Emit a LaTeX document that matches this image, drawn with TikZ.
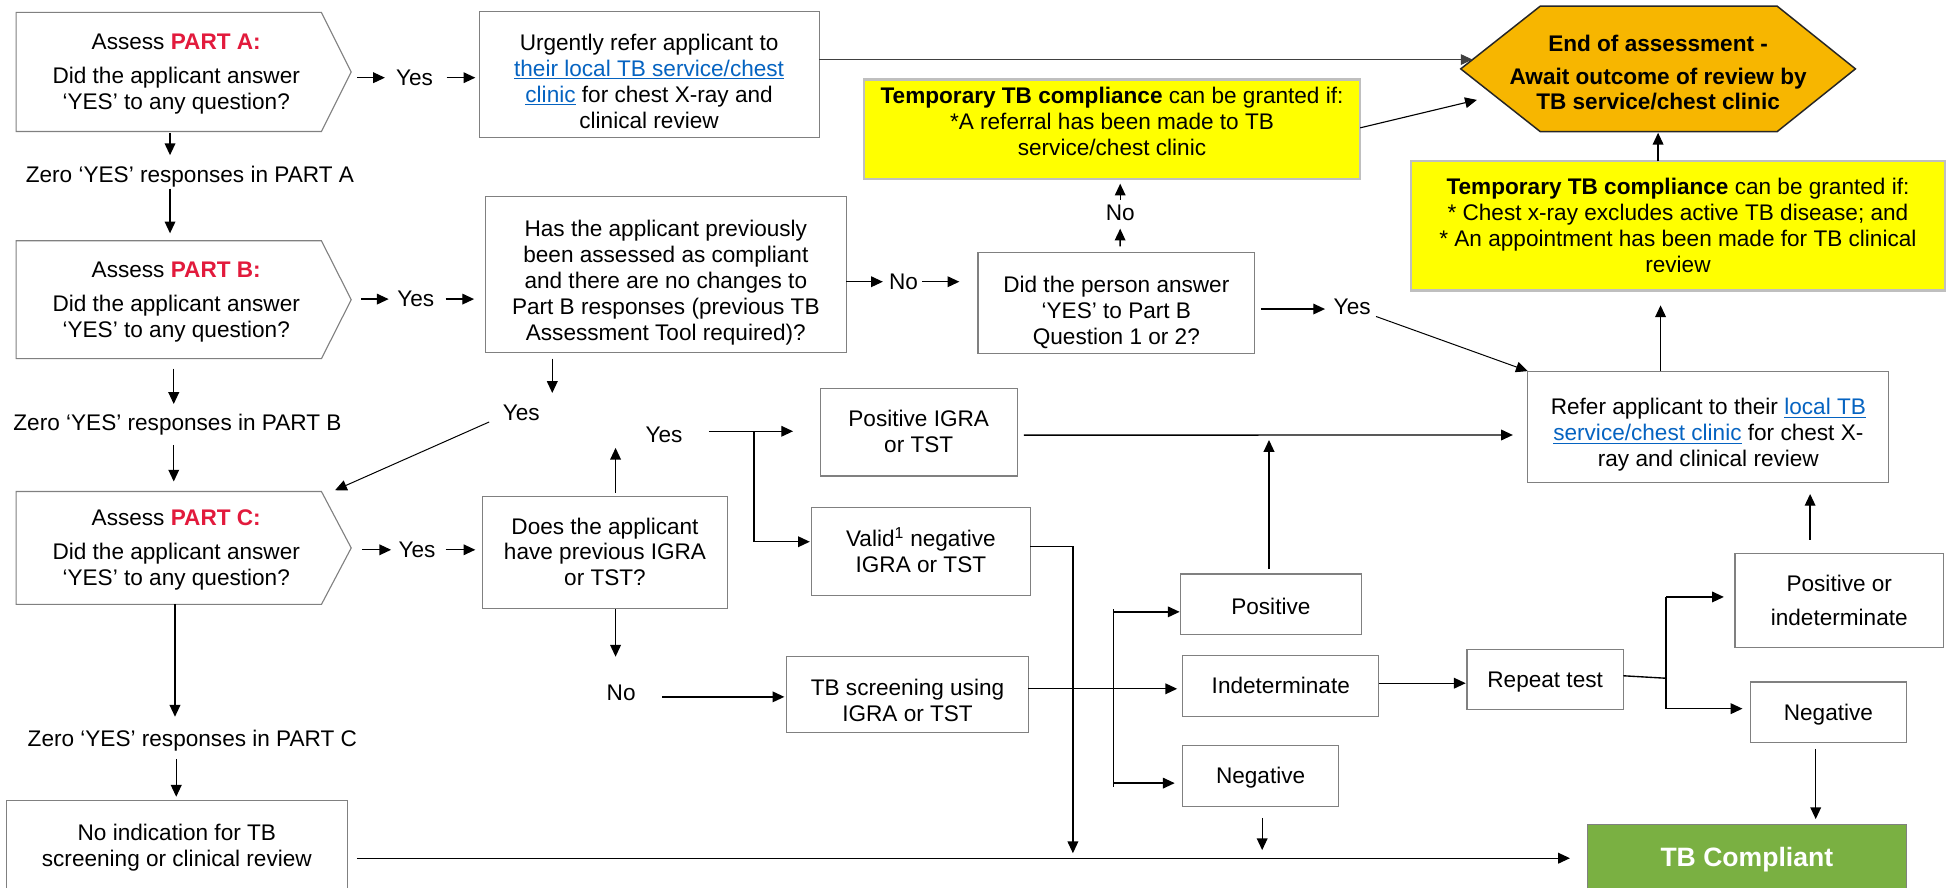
\documentclass[tikz,border=0pt]{standalone}
\usepackage{fontspec}
\setmainfont{Liberation Sans}
\usetikzlibrary{arrows.meta,calc}
\definecolor{boxgray}{RGB}{128,128,128}
\definecolor{ygray}{RGB}{191,191,191}
\definecolor{partred}{RGB}{226,26,60}
\definecolor{linkblue}{RGB}{5,99,193}
\definecolor{hexfill}{RGB}{247,182,0}
\definecolor{tbgreen}{RGB}{122,176,66}
\definecolor{yfill}{RGB}{255,255,0}
\newcommand{\fs}{\fontsize{18.2pt}{20.9pt}\selectfont}
\newcommand{\lnk}[1]{{\color{linkblue}\underline{#1}}}
\newcommand{\mytxt}[2][-2pt]{\raisebox{#1}[\height][\depth]{\begin{tabular}{@{}c@{}}#2\end{tabular}}}
\pgfdeclarelayer{bg}
\pgfsetlayers{bg,main}
\tikzset{
  box/.style={draw=boxgray, line width=0.9pt, inner sep=0pt, outer sep=0pt, anchor=north west, font=\fs},
  ybox/.style={box, draw=ygray, line width=1.8pt, fill=yfill},
  pent/.style={draw=boxgray, line width=0.9pt},
  lbl/.style={inner sep=0pt, outer sep=0pt, font=\fs},
  arr/.style={line width=1.1pt, -{Triangle[length=9.5pt,width=8.6pt]}},
  ln/.style={line width=1.1pt},
  thinln/.style={line width=0.8pt}
}
\begin{document}
\begin{tikzpicture}[x=1pt,y=-1pt]
\useasboundingbox (0,0) rectangle (1568,715);

% ---------- left column ----------
\node[box, draw=none, minimum width=258pt, minimum height=96pt] (pa) at (13,10)
  {\mytxt{Assess \textcolor{partred}{\textbf{PART A:}}\\[7pt] Did the applicant answer\\ ‘YES’ to any question?}};
\draw[pent] (pa.north west) -- ($(pa.north east)+(-12,0)$) -- ($(pa.east)+(12,0)$) -- ($(pa.south east)+(-12,0)$) -- (pa.south west) -- cycle;

\node[box, draw=none, minimum width=258pt, minimum height=95pt] (pb) at (13,194)
  {\mytxt{Assess \textcolor{partred}{\textbf{PART B:}}\\[7pt] Did the applicant answer\\ ‘YES’ to any question?}};
\draw[pent] (pb.north west) -- ($(pb.north east)+(-12,0)$) -- ($(pb.east)+(12,0)$) -- ($(pb.south east)+(-12,0)$) -- (pb.south west) -- cycle;

\node[box, draw=none, minimum width=258pt, minimum height=91pt] (pc) at (13,396)
  {\mytxt{Assess \textcolor{partred}{\textbf{PART C:}}\\[7pt] Did the applicant answer\\ ‘YES’ to any question?}};
\draw[pent] (pc.north west) -- ($(pc.north east)+(-12,0)$) -- ($(pc.east)+(12,0)$) -- ($(pc.south east)+(-12,0)$) -- (pc.south west) -- cycle;

\node[box, minimum width=275pt, minimum height=77pt] (noind) at (5,645)
  {\mytxt[0pt]{No indication for TB\\ screening or clinical review}};

\node[lbl] (zA) at (153,142.5) {Zero ‘YES’ responses in PART A};
\node[lbl] (zB) at (143,342) {Zero ‘YES’ responses in PART B};
\node[lbl] (zC) at (155,597) {Zero ‘YES’ responses in PART C};
\node[lbl] (yA) at (334,62.6) {Yes};
\node[lbl] (yB) at (335,241) {Yes};
\node[lbl] (yC) at (336,443) {Yes};

% ---------- middle ----------
\node[box, minimum width=274pt, minimum height=102pt] (urg) at (386,9)
  {\mytxt[-8pt]{Urgently refer applicant to\\ \lnk{their local TB service/chest}\\ \lnk{clinic} for chest X-ray and\\ clinical review}};
\node[box, minimum width=291pt, minimum height=125.5pt] (has) at (391,158.5)
  {\mytxt[-7pt]{Has the applicant previously\\ been assessed as compliant\\ and there are no changes to\\ Part B responses (previous TB\\ Assessment Tool required)?}};
\node[box, minimum width=197pt, minimum height=90pt] (does) at (389,400)
  {\mytxt{Does the applicant\\ have previous IGRA\\ or TST?}};
\node[box, minimum width=223pt, minimum height=81.4pt] (dtp) at (788,203.6)
  {\mytxt[-8pt]{Did the person answer\\ ‘YES’ to Part B\\ Question 1 or 2?}};
\node[ybox, minimum width=400pt, minimum height=80pt] (y1) at (696,64)
  {\mytxt[4pt]{\textbf{Temporary TB compliance} can be granted if:\\ {*}A referral has been made to TB\\ service/chest clinic}};
\node[box, minimum width=158.5pt, minimum height=70.8pt] (posigra) at (661,312.7)
  {\mytxt{Positive IGRA\\ or TST}};
\node[box, minimum width=176pt, minimum height=70.5pt] (valid) at (654,409)
  {\mytxt{Valid\textsuperscript{1} negative\\ IGRA or TST}};
\node[box, minimum width=194.5pt, minimum height=61.5pt] (tbscr) at (634,529)
  {\mytxt[-7pt]{TB screening using\\ IGRA or TST}};
\node[box, minimum width=146pt, minimum height=49pt] (pos) at (951,462.5) {\mytxt[-4pt]{Positive}};
\node[box, minimum width=158pt, minimum height=49pt] (indet) at (953,528) {\mytxt{Indeterminate}};
\node[box, minimum width=125.5pt, minimum height=49pt] (neg1) at (953,601) {\mytxt{Negative}};
\node[box, minimum width=126pt, minimum height=49pt] (repeat) at (1182,523) {\mytxt{Repeat test}};

\node[lbl] (noH) at (728,227) {No};
\node[lbl] (yesHas) at (420,333) {Yes};
\node[lbl] (yesDoes) at (535,350.5) {Yes};
\node[lbl] (noDoes) at (500.5,558.5) {No};
\node[lbl] (noDtp) at (902.6,171.4) {No};
\node[lbl] (yesDtp) at (1089.5,247.5) {Yes};

% ---------- right ----------
\node[box, draw=none, font=\fs\bfseries, minimum width=318pt, minimum height=101pt] (hex) at (1177,5)
  {\mytxt[-5pt]{End of assessment -\\[5.5pt] Await outcome of review by\\[-1pt] TB service/chest clinic}};
\begin{pgfonlayer}{bg}
\draw[draw=black!85, line width=1.2pt, fill=hexfill] (hex.west) -- ($(hex.north west)+(64,0)$) -- ($(hex.north east)+(-63,0)$) -- (hex.east) -- ($(hex.south east)+(-63,0)$) -- ($(hex.south west)+(64,0)$) -- cycle;
\end{pgfonlayer}
\node[ybox, minimum width=430pt, minimum height=104pt] (y2) at (1137,130)
  {\mytxt{\textbf{Temporary TB compliance} can be granted if:\\ {*} Chest x-ray excludes active TB disease; and\\ {*} An appointment has been made for TB clinical\\ review}};
\node[box, minimum width=291pt, minimum height=90pt] (refer) at (1231,299)
  {\mytxt[-7pt]{Refer applicant to their \lnk{local TB}\\ \lnk{service/chest clinic} for chest X-\\ ray and clinical review}};
\node[box, minimum width=168pt, minimum height=76pt] (posind) at (1398,446)
  {\mytxt{Positive or\\[6.5pt] indeterminate}};
\node[box, minimum width=125.5pt, minimum height=49pt] (neg2) at (1410.5,549.5) {\mytxt{Negative}};
\node[box, fill=tbgreen, text=white, font=\fontsize{21.4pt}{24pt}\selectfont\bfseries, minimum width=257pt, minimum height=58pt] (tbc) at (1279,664) {TB Compliant};

\coordinate (hexin1) at ($(hex.west)+(9.5,-7.5)$);
\coordinate (hexin2) at ($(hex.west)+(13,25)$);
\coordinate (j1) at (864.5,687.5);
\coordinate (j2) at (1017,685);
\coordinate (br2) at (1342.5,546.5);

% ---------- connectors ----------
\draw[arr] ($(pa.east |- yA)+(17,0)$) -- ($(yA.west)+(-9,0)$);
\draw[arr] ($(yA.east)+(11,0)$) -- ($(urg.west |- yA)+(-3,0)$);
\draw[arr, line width=0.9pt, draw=black!75] ($(urg.north east)+(0,39)$) -- (hexin1);
\draw[arr, line width=0.9pt] ($(y1.east)+(0,-1)$) -- (hexin2);
\draw[arr] ($(y2.north)+(-16,0)$) -- ($(hex.south)+(0,1)$);

\draw[arr] ($(pa.south)+(-5,1)$) -- ($(zA.north)+(-16,-9)$);
\draw[arr] ($(zA.south)+(-16,1)$) -- ($(pb.north)+(-5,-6)$);
\draw[arr] ($(pb.east |- yB)+(20,0)$) -- ($(yB.west)+(-7,0)$);
\draw[arr] ($(yB.east)+(9.3,0)$) -- ($(has.west |- yB)+(-9,0)$);
\draw[arr] ($(pb.south)+(-2,8)$) -- ($(zB.north)+(-3,-8)$);
\draw[arr] ($(zB.south)+(-3,8)$) -- ($(pc.north)+(-2,-8)$);

\draw[arr] (has.east |- noH) -- ($(noH.west)+(-5,0)$);
\draw[arr] ($(noH.east)+(3.5,0)$) -- ($(dtp.west |- noH)+(-15,0)$);
\draw[arr] ($(has.south)+(-91.5,5)$) -- ($(yesHas.north)+(25,-10)$);
\draw[arr, thinln] ($(yesHas.west)+(-11,7)$) -- ($(pc.north east)+(-1,-1)$);

\draw[arr] ($(dtp.north)+(3,-5)$) -- ($(noDtp.south)+(0,6.5)$);
\draw[arr] ($(noDtp.north)+(0,-4)$) -- ($(y1.south -| noDtp)+(0,4)$);
\draw[arr] ($(dtp.east |- yesDtp)+(5,1.5)$) -- ($(yesDtp.west)+(-7,1.5)$);
\draw[arr, thinln] ($(yesDtp.east)+(4.4,7.5)$) -- (refer.north west);
\draw[arr] ($(refer.north)+(-38.5,0)$) -- ($(y2.south)+(-14,12)$);

\draw[arr] ($(pc.east |- yC)+(21,0)$) -- ($(yC.west)+(-6,0)$);
\draw[arr] ($(yC.east)+(8.3,0)$) -- ($(does.west |- yC)+(-6,0)$);
\draw[arr] ($(pc.south)+(-1,0)$) -- ($(zC.north)+(-14,-11)$);
\draw[arr] ($(zC.south)+(-13,6)$) -- ($(noind.north)+(-0.5,-3)$);

\draw[arr] ($(does.north)+(8.5,-3)$) -- ($(yesDoes.south)+(-39,4)$);
\draw[arr] ($(yesDoes.east)+(21.3,-3)$) -- ($(posigra.west |- yesDoes)+(-22,-3)$);
\draw[arr] ($(yesDoes.east)+(57.8,-3)$) |- ($(valid.west)+(-1.5,-7.75)$);
\draw[arr] ($(does.south)+(8.5,1)$) -- ($(noDoes.north)+(-4.5,-23)$);
\draw[arr] ($(noDoes.east)+(21.3,3)$) -- ($(tbscr.west)+(-2,1.75)$);

\draw[arr] ($(posigra.east)+(5.5,2.5)$) -- ($(refer.west)+(-12,6.5)$);
\draw[arr] ($(valid.east)+(0,-3.75)$) -| (j1);
\draw[arr] ($(noind.east)+(7.5,8)$) -- ($(noind.east -| tbc.west)+(-14,8)$);
\draw[arr] ($(tbscr.east |- indet.west)+(0,2.5)$) -- ($(indet.west)+(-4.5,2.5)$);
\draw[ln] ($(pos.west)+(-54,4)$) -- ($(neg1.west)+(-56,8.5)$);
\draw[arr] ($(pos.west)+(-54,6)$) -- ($(pos.west)+(-0.5,6)$);
\draw[arr] ($(neg1.west)+(-56,5.5)$) -- ($(neg1.west)+(-6.5,5.5)$);
\draw[arr] ($(pos.north)+(-1.5,-4)$) -- ($(pos.north |- refer.west)+(-1.5,10.5)$);
\draw[arr] ($(indet.east)+(0,-2)$) -- ($(repeat.west)+(-1,3)$);
\draw[arr] ($(neg1.south)+(1.25,9)$) -- (j2);
\draw[ln] ($(repeat.east)+(0,-3)$) -- (br2);
\draw[ln] ($(posind.west)+(-55.5,-3)$) -- ($(neg2.west)+(-68,-3)$);
\draw[arr] ($(posind.west)+(-55.5,-3)$) -- ($(posind.west)+(-9,-3)$);
\draw[arr] ($(neg2.west)+(-68,-3)$) -- ($(neg2.west)+(-6.5,-3)$);
\draw[arr] ($(posind.north)+(-23.5,-11)$) -- ($(refer.south -| posind.north)+(-23.5,9)$);
\draw[arr] ($(neg2.south)+(-10.25,5)$) -- ($(tbc.north -| neg2.south)+(-10.25,-4)$);
\end{tikzpicture}
\end{document}
